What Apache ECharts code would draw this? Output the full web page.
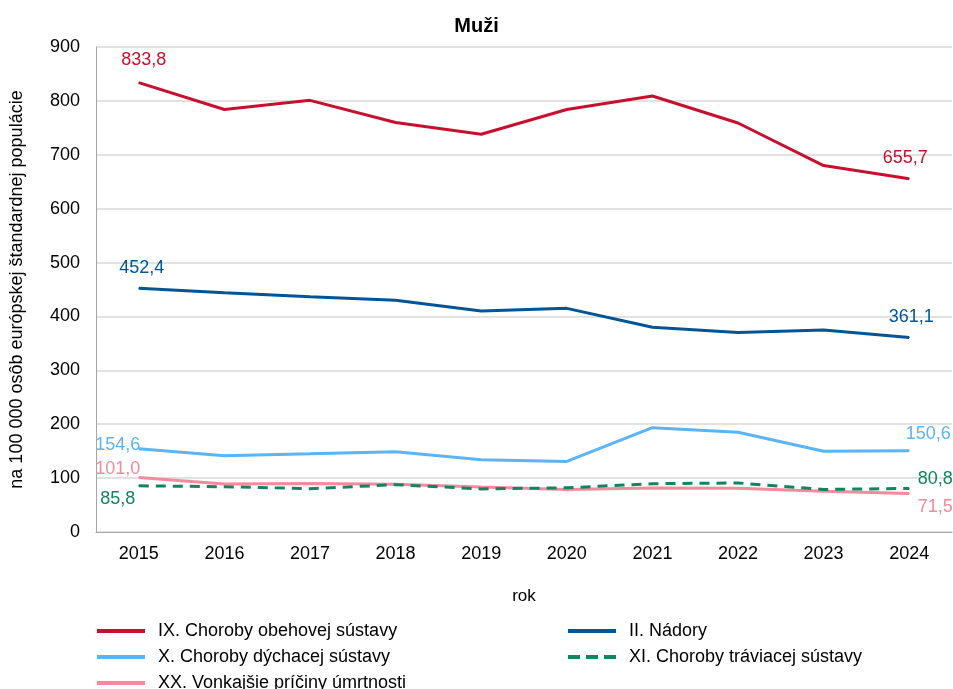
<!DOCTYPE html>
<html><head><meta charset="utf-8">
<script src="https://cdn.jsdelivr.net/npm/echarts@6/dist/echarts.min.js"></script>
<style>html,body{margin:0;padding:0;background:#fff}#c{width:953px;height:689px}</style>
</head><body><div id="c"></div>
<script>
const years = ['2015','2016','2017','2018','2019','2020','2021','2022','2023','2024'];
const obehova = [833.8,784,801,760,738,784,809,759,680,655.7];
const nadory = [452.4,444,436.5,430,410,415,380,370,375,361.1];
const dychacia = [154.6,141.6,145,149,134,131,193.5,185,150,150.6];
const traviaca = [85.8,84,80.4,87.8,80,82,89.6,91,79,80.8];
const vonkajsie = [101.0,89,90,88.5,83.5,79,81.6,81,75.5,71.5];
const names = ['IX. Choroby obehovej sústavy','II. Nádory','X. Choroby dýchacej sústavy','XI. Choroby tráviacej sústavy','XX. Vonkajšie príčiny úmrtnosti'];
const colors = ['#C8102E','#005596','#5AB4F5','#118462','#F48A9C'];

const fmt = v => v.toFixed(1).replace('.', ',');
function mk(arr, firstLbl, lastLbl){
  return arr.map((v,i)=>{
    if(i===0) return {value:v,label:Object.assign({show:true},firstLbl)};
    if(i===arr.length-1) return {value:v,label:Object.assign({show:true},lastLbl)};
    return v;
  });
}
const font = 'Liberation Sans, Arial, sans-serif';
function ser(idx, arr, f, l, dashed){
  return {
    name: names[idx], type:'line', data: mk(arr,f,l),
    symbol:'circle', symbolSize:1, showSymbol:true,
    lineStyle:{width:3, color:colors[idx], type: dashed?[10,7]:'solid'},
    itemStyle:{color:colors[idx]},
    label:{show:false, color:colors[idx], fontSize:18, fontFamily:font, formatter:p=>fmt(p.value)},
    emphasis:{disabled:true}, animation:false, z: 10-idx
  };
}
const solidIcon = 'path://M0,0h48v4h-48z';
const dashIcon = 'path://M0,0h12v4h-12z M18,0h12v4h-12z M36,0h12v4h-12z';
function leg(idx, left, top, icon){
  return {data:[{name:names[idx], icon:icon}], left:left, top:top, itemWidth:48, itemHeight:4,
    textStyle:{fontSize:18,color:'#000',fontFamily:font, padding:[0,0,0,8]}, selectedMode:false};
}
const chart = echarts.init(document.getElementById('c'));
chart.setOption({
  animation:false,
  title:{text:'Muži', left:'center', top:11, textStyle:{fontSize:20, fontWeight:'bold', color:'#000', fontFamily:font}},
  grid:{left:95, right:1, top:47, bottom:157},
  xAxis:{type:'category', data:years, boundaryGap:true,
    name:'rok', nameLocation:'middle', nameGap:56, nameTextStyle:{fontSize:17,color:'#000',fontFamily:font},
    axisLine:{lineStyle:{color:'#A6A6A6'}}, axisTick:{show:false},
    axisLabel:{fontSize:18, color:'#000', fontFamily:font, margin:13}},
  yAxis:{type:'value', min:0, max:900, interval:100,
    name:'na 100 000 osôb európskej štandardnej populácie', nameLocation:'middle', nameGap:70,
    nameTextStyle:{fontSize:18,color:'#000',fontFamily:font},
    axisLine:{show:true, lineStyle:{color:'#A6A6A6'}}, axisTick:{show:false},
    splitLine:{lineStyle:{color:'#D9D9D9', width:1.5}},
    axisLabel:{fontSize:18, color:'#000', fontFamily:font, margin:16}},
  legend:[
    leg(0, 92, 617, solidIcon),
    leg(2, 92, 643, solidIcon),
    leg(4, 92, 669, solidIcon),
    leg(1, 563, 617, solidIcon),
    leg(3, 563, 643, dashIcon)
  ],
  series:[
    ser(0, obehova, {position:'top', distance:13, offset:[5,0]}, {position:'top', distance:11, offset:[-4,0]}),
    ser(1, nadory, {position:'top', distance:11, offset:[3,0]}, {position:'top', distance:11, offset:[2,0]}),
    ser(2, dychacia, {position:'left', distance:-2, offset:[0,-4]}, {position:'top', distance:7, offset:[19,0]}),
    ser(3, traviaca, {position:'left', distance:3, offset:[0,13]}, {position:'right', distance:8, offset:[0,-9]}, true),
    ser(4, vonkajsie, {position:'left', distance:-2, offset:[0,-9]}, {position:'right', distance:8, offset:[0,14]})
  ]
});
</script></body></html>
